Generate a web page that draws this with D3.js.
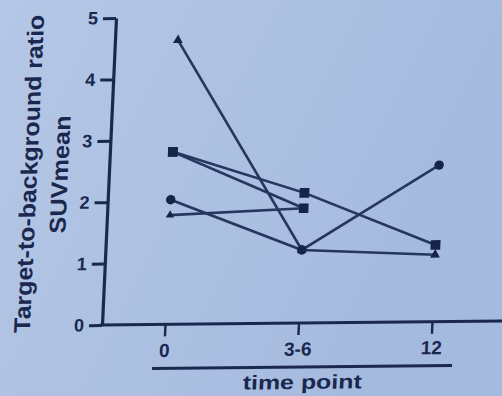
<!DOCTYPE html>
<html>
<head>
<meta charset="utf-8">
<script src="https://cdn.jsdelivr.net/npm/d3@7/dist/d3.min.js"></script>
<style>
  html, body { margin: 0; padding: 0; background: #abc0e1; }
  svg { display: block; }
</style>
</head>
<body>
<svg id="chart" width="502" height="396"></svg>
<script>
// Time points on the x axis
const timePoints = ["0", "3-6", "12"];

// Target-to-background ratio (SUVmean) per subject; null = not measured
const subject1 = [4.63, 1.19, 1.09];
const subject2 = [2.81, 2.12, 1.25];
const subject3 = [2.81, 1.87, null];
const subject4 = [2.03, 1.19, 2.55];
const subject5 = [1.78, 1.87, null];

const yTicks = [0, 1, 2, 3, 4, 5];

const subjects = [
  { values: subject1, symbol: d3.symbolTriangle, size: 42 },
  { values: subject2, symbol: d3.symbolSquare, size: 95 },
  { values: subject3, symbol: d3.symbolSquare, size: 90 },
  { values: subject4, symbol: d3.symbolCircle, size: 70 },
  { values: subject5, symbol: d3.symbolTriangle2, size: 50 }
];

const ink = "#1a284f";
const font = "'Liberation Sans', Arial, sans-serif";

const svg = d3.select("#chart");

// soft paper-blue backdrop
const grad = svg.append("defs").append("linearGradient")
  .attr("id", "bg").attr("x1", 0).attr("y1", 0).attr("x2", 1).attr("y2", 0.4);
grad.append("stop").attr("offset", 0).attr("stop-color", "#b5c7e6");
grad.append("stop").attr("offset", 1).attr("stop-color", "#a4bade");
svg.append("rect").attr("width", 502).attr("height", 396).attr("fill", "url(#bg)");

// plot frame, slightly sheared
const g = svg.append("g")
  .attr("transform", "translate(102,325) matrix(1,-0.01,-0.0456,1,0,0)");

const x = d3.scalePoint().domain(timePoints).range([63, 330]);
const y = d3.scaleLinear().domain([0, 5]).range([0, -307]);

// y axis
const yAxis = g.append("g")
  .call(d3.axisLeft(y).tickValues(yTicks).tickSize(13).tickPadding(5).tickSizeOuter(0)
    .tickFormat(d3.format("d")));
yAxis.select(".domain").attr("stroke", ink).attr("stroke-width", 3.2);
yAxis.selectAll(".tick line").attr("stroke", ink).attr("stroke-width", 3);
yAxis.selectAll(".tick text")
  .attr("fill", ink).attr("font-family", font).attr("font-weight", "bold").attr("font-size", 18);

// x axis
const xAxis = g.append("g")
  .call(d3.axisBottom(x).tickSize(12).tickPadding(7).tickSizeOuter(0));
xAxis.select(".domain").remove();
xAxis.selectAll(".tick line").attr("stroke", ink).attr("stroke-width", 2.4);
xAxis.selectAll(".tick text")
  .attr("fill", ink).attr("font-family", font).attr("font-weight", "bold").attr("font-size", 19);
g.append("line")
  .attr("x1", -2).attr("x2", 402).attr("y1", 0).attr("y2", 0)
  .attr("stroke", ink).attr("stroke-width", 3.2);

// grouping bar under the time labels
g.append("line")
  .attr("x1", 52).attr("x2", 352).attr("y1", 44).attr("y2", 44)
  .attr("stroke", ink).attr("stroke-width", 3);

// axis titles
g.append("text")
  .attr("transform", "translate(203,66)")
  .attr("text-anchor", "middle")
  .attr("fill", ink).attr("font-family", font).attr("font-weight", "bold").attr("font-size", 20)
  .attr("textLength", 119).attr("lengthAdjust", "spacingAndGlyphs")
  .text("time point");

g.append("text")
  .attr("transform", "translate(-80,-152) rotate(-90)")
  .attr("text-anchor", "middle").attr("dy", "0.35em")
  .attr("fill", ink).attr("font-family", font).attr("font-weight", "bold").attr("font-size", 23)
  .attr("textLength", 318).attr("lengthAdjust", "spacingAndGlyphs")
  .text("Target-to-background ratio");

g.append("text")
  .attr("transform", "translate(-49,-151) rotate(-90)")
  .attr("text-anchor", "middle").attr("dy", "0.35em")
  .attr("fill", ink).attr("font-family", font).attr("font-weight", "bold").attr("font-size", 23)
  .attr("textLength", 118).attr("lengthAdjust", "spacingAndGlyphs")
  .text("SUVmean");

// subject lines
const line = d3.line()
  .defined(d => d != null)
  .x((d, i) => x(timePoints[i]))
  .y(d => y(d));

g.append("g").selectAll("path")
  .data(subjects)
  .join("path")
  .attr("d", s => line(s.values))
  .attr("fill", "none")
  .attr("stroke", "#26375f")
  .attr("stroke-width", 2.6);

// markers
subjects.forEach(s => {
  g.append("g").selectAll("path")
    .data(s.values.map((v, i) => ({ v, t: timePoints[i] })).filter(d => d.v != null))
    .join("path")
    .attr("transform", d => `translate(${x(d.t)},${y(d.v)})`)
    .attr("d", d3.symbol().type(s.symbol).size(s.size))
    .attr("fill", "#16244a");
});
</script>
</body>
</html>
